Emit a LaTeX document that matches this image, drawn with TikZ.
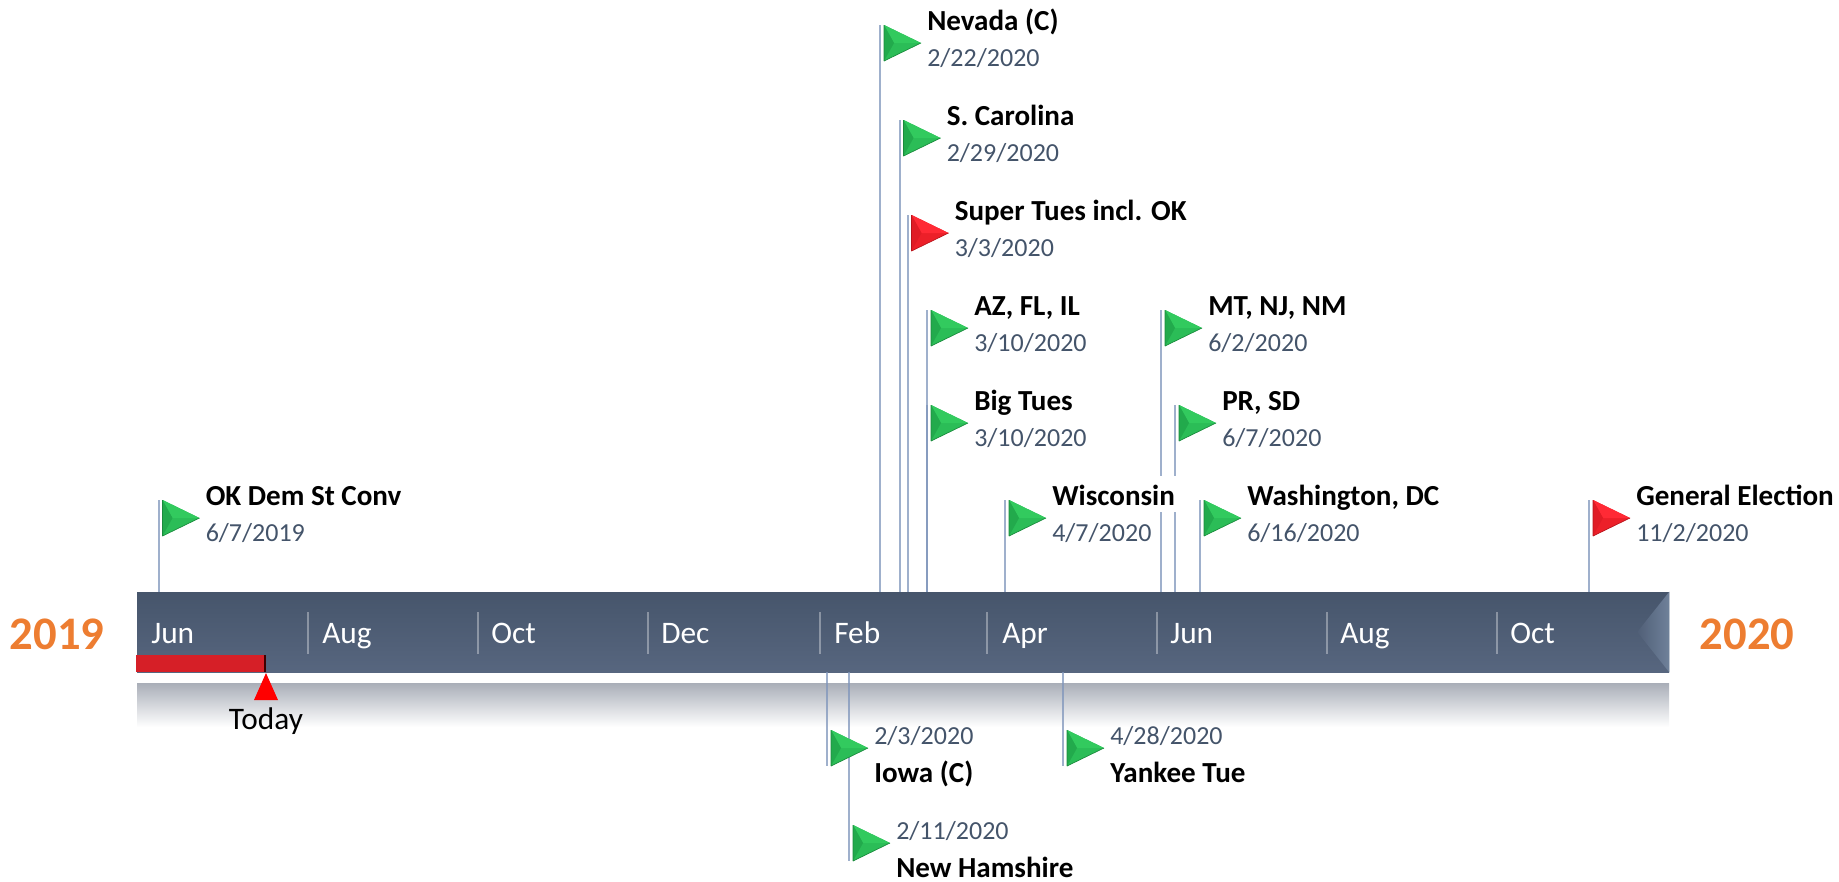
\documentclass[tikz,border=0pt]{standalone}
\usepackage{fontspec}
\setmainfont{Carlito}
\usetikzlibrary{calc}

\definecolor{barTop}{HTML}{46556B}
\definecolor{barBot}{HTML}{57667F}
\definecolor{barEnd}{HTML}{6F819A}
\definecolor{shadeTop}{HTML}{A9AEB8}
\definecolor{poleBlue}{HTML}{7F95BB}
\definecolor{dateBlue}{HTML}{44546A}
\definecolor{yearOrange}{HTML}{ED7D31}
\definecolor{todayRed}{HTML}{D61F27}
\definecolor{greenflag}{HTML}{2BBD57}
\definecolor{greenflaglt}{HTML}{32CA5E}
\definecolor{greenflagdk}{HTML}{22AA4C}
\definecolor{greenflagln}{HTML}{1A8A3C}
\definecolor{redflag}{HTML}{EC2029}
\definecolor{redflaglt}{HTML}{FF2A35}
\definecolor{redflagdk}{HTML}{E01C25}
\definecolor{redflagln}{HTML}{B8141B}

\newcommand{\flagat}[2]{%
  \begin{scope}[shift={(#1)}]
    \fill[#2flag] (4,0) -- (41,18) -- (4,36) -- cycle;
    \fill[#2flaglt] (4,0) -- (41,18) -- (14,18) -- cycle;
    \fill[#2flagdk] (4,0) -- (14,18) -- (4,36) -- cycle;
    \draw[#2flagln, line width=0.5pt, line join=round] (4,36) -- (4,0) (4,36) -- (41,18);
  \end{scope}}

\begin{document}
\begin{tikzpicture}[x=0.75pt, y=-0.75pt]
    \tikzstyle{timebar} = [rectangle, inner sep=0pt, minimum width=1149pt, minimum height=60pt, top color=barTop, bottom color=barBot]
    \tikzstyle{barshade} = [rectangle, inner sep=0pt, minimum width=1149pt, minimum height=33pt, top color=shadeTop, bottom color=white]
    \tikzstyle{pole} = [poleBlue, opacity=0.75, line width=1.5pt]
    \tikzstyle{monthtick} = [white, opacity=0.35, line width=1.2pt]
    \tikzstyle{month} = [anchor=base west, inner sep=0pt, text=white, font=\fontsize{23.5}{27}\selectfont]
    \tikzstyle{eventname} = [anchor=base west, inner sep=0pt, font=\fontsize{21.8}{25}\selectfont\bfseries]
    \tikzstyle{eventdate} = [anchor=base west, inner sep=0pt, text=dateBlue, font=\fontsize{19.5}{23}\selectfont]
    \tikzstyle{yearlabel} = [anchor=base, inner sep=0pt, text=yearOrange, font=\fontsize{35}{40}\selectfont\bfseries]

    \useasboundingbox (0,0) rectangle (1839,882);

    % Main bar
    \node [barshade] (shade) at (903,705) {};
    \node [timebar] (bar) at (903,632) {};
    \shade[left color=barBot!60!barTop, right color=barEnd] (bar.north east) -- ($(bar.east)+(-32,0)$) -- (bar.south east) -- cycle;

    % Month separators
    \draw[monthtick] (308,612) -- (308,654);
    \draw[monthtick] (478,612) -- (478,654);
    \draw[monthtick] (648,612) -- (648,654);
    \draw[monthtick] (820,612) -- (820,654);
    \draw[monthtick] (987,612) -- (987,654);
    \draw[monthtick] (1157,612) -- (1157,654);
    \draw[monthtick] (1327,612) -- (1327,654);
    \draw[monthtick] (1497,612) -- (1497,654);

    % Months
    \node [month] (jun1) at (151,643) {Jun};
    \node [month] (aug1) at (322,643) {Aug};
    \node [month] (oct1) at (491,643) {Oct};
    \node [month] (dec1) at (661,643) {Dec};
    \node [month] (feb) at (834,643) {Feb};
    \node [month] (apr) at (1002,643) {Apr};
    \node [month] (jun2) at (1170,643) {Jun};
    \node [month] (aug2) at (1340,643) {Aug};
    \node [month] (oct2) at (1510,643) {Oct};

    % Years
    \node [yearlabel] (y2019) at (57,649) {2019};
    \node [yearlabel] (y2020) at (1747,649) {2020};

    % Today marker
    \fill[todayRed] (136,655) rectangle (265,672);
    \draw[black!75!red, line width=1.2pt] (265,655) -- (265,672);
    \coordinate (todaytip) at (266,673);
    \fill[red] (todaytip) -- (278,700) -- (254,700) -- cycle;
    \node [inner sep=0pt, anchor=base, font=\fontsize{23.5}{27}\selectfont] (today) at (266,729) {Today};

    % Poles above the bar
    \coordinate (okdem) at (158.5,500);
    \coordinate (nevada) at (880,25);
    \coordinate (carolina) at (899.5,120);
    \coordinate (supertues) at (907.5,215);
    \coordinate (azflil) at (927,310);
    \coordinate (bigtues) at (927,405);
    \coordinate (wisconsin) at (1005,500);
    \coordinate (mtnjnm) at (1161,310);
    \coordinate (prsd) at (1175,405);
    \coordinate (washington) at (1200,500);
    \coordinate (general) at (1589,500);
    \draw[pole] (okdem) -- (okdem |- bar.north);
    \draw[pole] (nevada) -- (nevada |- bar.north);
    \draw[pole] (carolina) -- (carolina |- bar.north);
    \draw[pole] (supertues) -- (supertues |- bar.north);
    \draw[pole] (azflil) -- (azflil |- bar.north);
    \draw[pole] (bigtues) -- (bigtues |- bar.north);
    \draw[pole] (wisconsin) -- (wisconsin |- bar.north);
    \draw[pole] (mtnjnm) -- (mtnjnm |- bar.north);
    \draw[pole] (prsd) -- (prsd |- bar.north);
    \draw[pole] (washington) -- (washington |- bar.north);
    \draw[pole] (general) -- (general |- bar.north);

    % Poles below the bar
    \coordinate (iowa) at (827,730);
    \coordinate (newham) at (849,825);
    \coordinate (yankee) at (1063,730);
    \draw[pole] (bar.south -| iowa) -- ($(iowa)+(0,36)$);
    \draw[pole] (bar.south -| newham) -- ($(newham)+(0,36)$);
    \draw[pole] (bar.south -| yankee) -- ($(yankee)+(0,36)$);

    % Flags
    \flagat{okdem}{green}
    \flagat{nevada}{green}
    \flagat{carolina}{green}
    \flagat{supertues}{red}
    \flagat{azflil}{green}
    \flagat{bigtues}{green}
    \flagat{wisconsin}{green}
    \flagat{mtnjnm}{green}
    \flagat{prsd}{green}
    \flagat{washington}{green}
    \flagat{general}{red}
    \flagat{iowa}{green}
    \flagat{newham}{green}
    \flagat{yankee}{green}

    % Labels above the bar
    \node [eventname] (okdemname) at ($(okdem)+(47,5)$) {OK Dem St Conv};
    \node [eventdate] (okdemdate) at ($(okdem)+(47,41)$) {6/7/2019};
    \node [eventname] (nevadaname) at ($(nevada)+(47,5)$) {Nevada (C)};
    \node [eventdate] (nevadadate) at ($(nevada)+(47,41)$) {2/22/2020};
    \node [eventname] (carolinaname) at ($(carolina)+(47,5)$) {S. Carolina};
    \node [eventdate] (carolinadate) at ($(carolina)+(47,41)$) {2/29/2020};
    \node [eventname] (supertuesname) at ($(supertues)+(47,5)$) {Super Tues incl. OK};
    \node [eventdate] (supertuesdate) at ($(supertues)+(47,41)$) {3/3/2020};
    \node [eventname] (azflilname) at ($(azflil)+(47,5)$) {AZ, FL, IL};
    \node [eventdate] (azflildate) at ($(azflil)+(47,41)$) {3/10/2020};
    \node [eventname] (bigtuesname) at ($(bigtues)+(47,5)$) {Big Tues};
    \node [eventdate] (bigtuesdate) at ($(bigtues)+(47,41)$) {3/10/2020};
    \node [eventname, fill=white, inner xsep=4pt, xshift=-4pt, text height=21.75pt, text depth=5.25pt] (wisconsinname) at ($(wisconsin)+(47,5)$) {Wisconsin};
    \node [eventdate] (wisconsindate) at ($(wisconsin)+(47,41)$) {4/7/2020};
    \node [eventname] (mtnjnmname) at ($(mtnjnm)+(47,5)$) {MT, NJ, NM};
    \node [eventdate] (mtnjnmdate) at ($(mtnjnm)+(47,41)$) {6/2/2020};
    \node [eventname] (prsdname) at ($(prsd)+(47,5)$) {PR, SD};
    \node [eventdate] (prsddate) at ($(prsd)+(47,41)$) {6/7/2020};
    \node [eventname] (washingtonname) at ($(washington)+(47,5)$) {Washington, DC};
    \node [eventdate] (washingtondate) at ($(washington)+(47,41)$) {6/16/2020};
    \node [eventname] (generalname) at ($(general)+(47,5)$) {General Election};
    \node [eventdate] (generaldate) at ($(general)+(47,41)$) {11/2/2020};

    % Labels below the bar
    \node [eventdate] (iowadate) at ($(iowa)+(47,14)$) {2/3/2020};
    \node [eventname] (iowaname) at ($(iowa)+(47,52)$) {Iowa (C)};
    \node [eventdate] (newhamdate) at ($(newham)+(47,14)$) {2/11/2020};
    \node [eventname] (newhamname) at ($(newham)+(47,52)$) {New Hamshire};
    \node [eventdate] (yankeedate) at ($(yankee)+(47,14)$) {4/28/2020};
    \node [eventname] (yankeename) at ($(yankee)+(47,52)$) {Yankee Tue};

\end{tikzpicture}
\end{document}
